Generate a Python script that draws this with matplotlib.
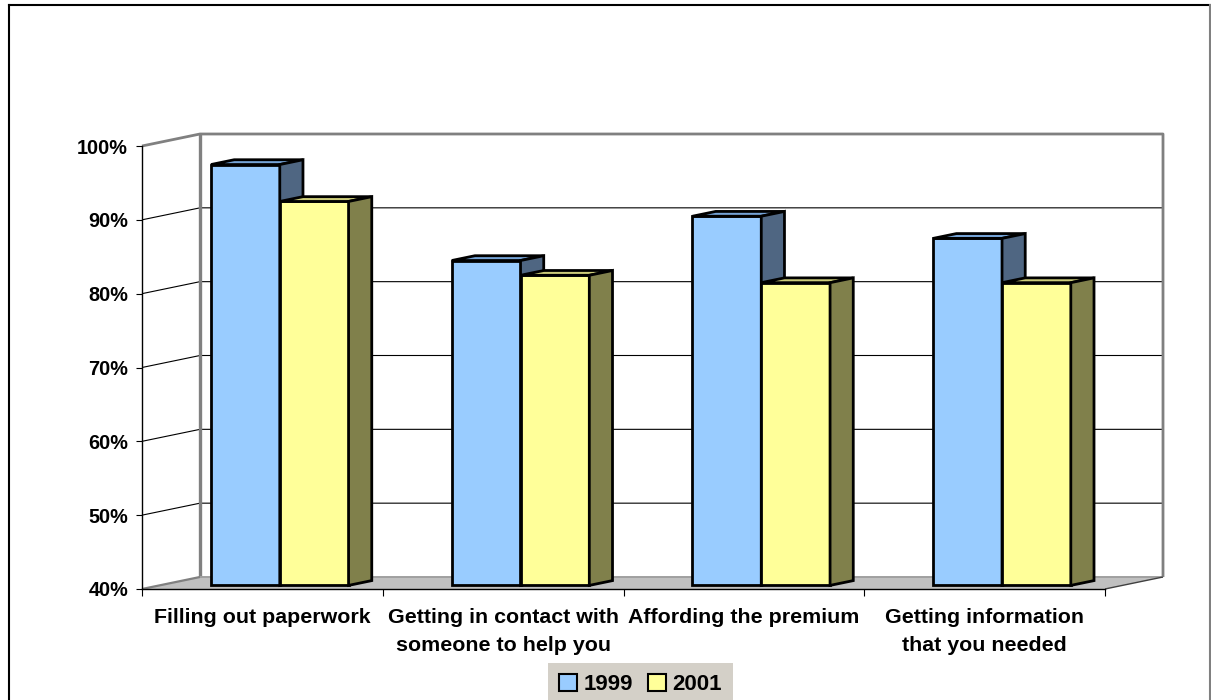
import matplotlib
matplotlib.use("Agg")
import matplotlib.pyplot as plt
from matplotlib.patches import Polygon, Patch
from matplotlib.lines import Line2D

# ---- data ----
categories = [
    "Filling out paperwork",
    "Getting in contact with\nsomeone to help you",
    "Affording the premium",
    "Getting information\nthat you needed",
]
series_names = ["1999", "2001"]
values_1999 = [97, 84, 90, 87]
values_2001 = [92, 82, 81, 81]
y_ticks = [40, 50, 60, 70, 80, 90, 100]

series_values = [values_1999, values_2001]
front_colors = ["#99CCFF", "#FFFF99"]
top_colors = ["#75A3D6", "#CCCC7A"]
side_colors = ["#4F6682", "#80804B"]

plt.rcParams["font.family"] = ["Liberation Sans", "DejaVu Sans"]
plt.rcParams["font.weight"] = "bold"

W, H = 1211, 700
fig = plt.figure(figsize=(W / 100, H / 100), dpi=100)
fig.patch.set_facecolor("white")

# front plane of the 3-D box in pixels
left_px, right_px, bottom_px, top_px = 142, 1105, 589, 146
ax = fig.add_axes([left_px / W, 1 - bottom_px / H,
                   (right_px - left_px) / W, (bottom_px - top_px) / H])
ymin, ymax = 40, 100
ncat = len(categories)
ax.set_xlim(0, ncat)
ax.set_ylim(ymin, ymax)
ax.set_facecolor("none")

# oblique depth offset (full depth) expressed in data units
px_per_cat = (right_px - left_px) / ncat
px_per_val = (bottom_px - top_px) / (ymax - ymin)
DX = 58 / px_per_cat
DV = 12 / px_per_val


def P(x, v, d):
    return (x + d * DX, v + d * DV)


def face(pts, fc, ec="none", lw=0, z=1):
    poly = Polygon([P(*p) for p in pts], closed=True, facecolor=fc,
                   edgecolor=ec, linewidth=lw, zorder=z, clip_on=False,
                   joinstyle="miter")
    ax.add_patch(poly)


def line(pts, color, lw, z=2):
    xs, ys = zip(*[P(*p) for p in pts])
    ax.add_line(Line2D(xs, ys, color=color, linewidth=lw, zorder=z,
                       clip_on=False, solid_capstyle="butt"))


# walls and floor
face([(0, ymin, 1), (ncat, ymin, 1), (ncat, ymax, 1), (0, ymax, 1)], "white")
face([(0, ymin, 0), (0, ymin, 1), (0, ymax, 1), (0, ymax, 0)], "white")
face([(0, ymin, 0), (ncat, ymin, 0), (ncat, ymin, 1), (0, ymin, 1)], "#C0C0C0")

# gridlines on side and back wall
for v in y_ticks[1:-1]:
    line([(0, v, 0), (0, v, 1), (ncat, v, 1)], "black", 0.8, z=2)

# wall edges
line([(0, ymax, 0), (0, ymax, 1), (ncat, ymax, 1), (ncat, ymin, 1)], "#808080", 2.0, z=2.5)
line([(0, ymin, 1), (0, ymax, 1)], "#808080", 2.4, z=2.5)
line([(0, ymin, 0), (0, ymin, 1)], "#808080", 1.6, z=2.5)
line([(0, ymin, 1), (ncat, ymin, 1)], "#A0A0A0", 1.4, z=2.5)
line([(ncat, ymin, 0), (ncat, ymin, 1)], "#404040", 1.0, z=2.5)

# bars
w = 1 / (len(series_values) + 1.5)
d0, d1 = 0.3, 0.7
for i in range(ncat):
    for s, vals in enumerate(series_values):
        x0 = i + 0.5 - w * len(series_values) / 2 + s * w
        x1 = x0 + w
        v1 = vals[i]
        z = 3 + i * 0.1 + s * 0.01
        face([(x0, ymin, d0), (x1, ymin, d0), (x1, v1, d0), (x0, v1, d0)],
             front_colors[s], "black", 2.0, z)
        face([(x0, v1, d0), (x1, v1, d0), (x1, v1, d1), (x0, v1, d1)],
             top_colors[s], "black", 2.0, z)
        face([(x1, ymin, d0), (x1, ymin, d1), (x1, v1, d1), (x1, v1, d0)],
             side_colors[s], "black", 2.0, z)

# axes: front value axis and category axis
for sp in ["top", "right"]:
    ax.spines[sp].set_visible(False)
ax.spines["left"].set_color("black")
ax.spines["left"].set_linewidth(1.0)
ax.spines["bottom"].set_color("black")
ax.spines["bottom"].set_linewidth(1.0)
ax.spines["left"].set_zorder(6)
ax.spines["bottom"].set_zorder(6)

ax.set_yticks(y_ticks, labels=[f"{t}%" for t in y_ticks])
ax.tick_params(axis="y", direction="out", length=4, width=0.8,
               labelsize=14.3, pad=6, colors="black")
ax.set_xticks(range(ncat + 1), labels=[""] * (ncat + 1))
ax.tick_params(axis="x", which="major", direction="out", length=5, width=0.8)
ax.set_xticks([i + 0.5 for i in range(ncat)], labels=categories, minor=True)
ax.tick_params(axis="x", which="minor", length=0, labelsize=15.4, pad=14)
for lab in ax.get_xticklabels(minor=True):
    lab.set_linespacing(1.55)
    lab.set_fontweight("bold")
for lab in ax.get_yticklabels():
    lab.set_fontweight("bold")

# legend
handles = [Patch(facecolor=c, edgecolor="black", linewidth=1.5)
           for c in front_colors]
leg = fig.legend(handles, series_names, loc="upper center",
                 bbox_to_anchor=(640.5 / W, 1 - 663 / H), ncol=2,
                 fontsize=16, frameon=True, fancybox=False,
                 handlelength=0.8, handleheight=0.8, handletextpad=0.3,
                 columnspacing=0.7, borderpad=0.5, borderaxespad=0)
leg.get_frame().set_facecolor("#D4D0C8")
leg.get_frame().set_edgecolor("none")
leg.get_frame().set_alpha(1)
for t in leg.get_texts():
    t.set_fontweight("bold")

# chart area border
fig.add_artist(Line2D([8.5 / W, 8.5 / W], [0, 1 - 4.5 / H], color="black",
                      linewidth=1.5, transform=fig.transFigure))
fig.add_artist(Line2D([8.5 / W, 1209.5 / W], [1 - 4.5 / H, 1 - 4.5 / H],
                      color="black", linewidth=1.5, transform=fig.transFigure))
fig.add_artist(Line2D([1209.5 / W, 1209.5 / W], [0, 1 - 4.5 / H],
                      color="#808080", linewidth=1.5, transform=fig.transFigure))

fig.savefig("out.png", dpi=100)
